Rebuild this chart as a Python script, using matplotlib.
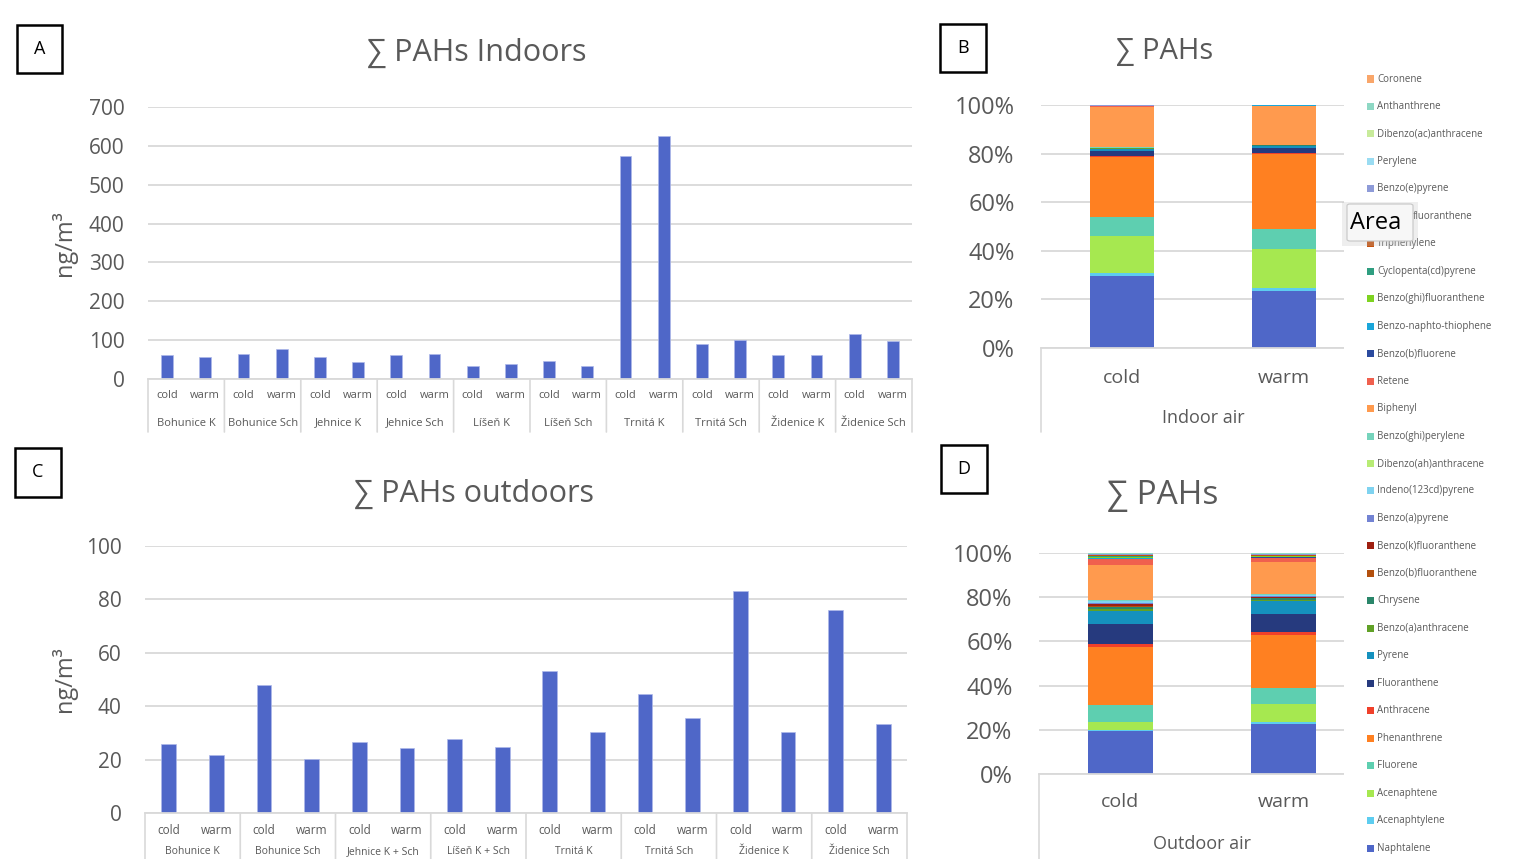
import numpy as np
import matplotlib
matplotlib.use("Agg")
import matplotlib.pyplot as plt
from matplotlib import transforms as mtransforms
from matplotlib.patches import Rectangle, FancyBboxPatch

plt.rcParams['font.family'] = ['Open Sans', 'DejaVu Sans']

# ---------------- data ----------------
seasons = ["cold", "warm"]

indoor_sites = ["Bohunice K", "Bohunice Sch", "Jehnice K", "Jehnice Sch", "Líšeň K",
                "Líšeň Sch", "Trnitá K", "Trnitá Sch", "Židenice K", "Židenice Sch"]
indoor_sum = [61, 57, 64.5, 76.5, 57, 44.7, 62.8, 64.5, 34.4, 37.8,
              46.4, 34.4, 573, 626, 90.3, 100.6, 61, 61, 117, 98.9]

outdoor_sites = ["Bohunice K", "Bohunice Sch", "Jehnice K + Sch", "Líšeň K + Sch",
                 "Trnitá K", "Trnitá Sch", "Židenice K", "Židenice Sch"]
outdoor_sum = [25.8, 21.7, 48.1, 20.1, 26.6, 24.2, 27.9, 24.8,
               53.1, 30.2, 44.5, 35.7, 83.0, 30.4, 76.2, 33.5]

# compounds, stacked from the bottom up
compounds = ["Naphtalene", "Acenaphtylene", "Acenaphtene", "Fluorene", "Phenanthrene",
             "Anthracene", "Fluoranthene", "Pyrene", "Benzo(a)anthracene", "Chrysene",
             "Benzo(b)fluoranthene", "Benzo(k)fluoranthene", "Benzo(a)pyrene",
             "Indeno(123cd)pyrene", "Dibenzo(ah)anthracene", "Benzo(ghi)perylene",
             "Biphenyl", "Retene", "Benzo(b)fluorene", "Benzo-naphto-thiophene",
             "Benzo(ghi)fluoranthene", "Cyclopenta(cd)pyrene", "Triphenylene",
             "fluoranthene", "Benzo(e)pyrene", "Perylene",
             "Dibenzo(ac)anthracene", "Anthanthrene", "Coronene"]

colors = ["#4F67C8", "#5DCDF0", "#A6E850", "#5ECFB0", "#FF8021",
          "#F0402A", "#263A7E", "#1591BE", "#61A127", "#2A866A",
          "#B3500E", "#9E1F10", "#7383D3", "#7FD3F0", "#B8EC75",
          "#76D4BC", "#FF9A4E", "#F0604E", "#2B4A9E", "#1AA6DA",
          "#7ED321", "#2F9E80", "#C5520E", "#F58A80", "#8E9BD8",
          "#9ADCF2", "#C8EB9B", "#8ED8C4", "#F9A66A"]

indoor_cold = [29.5, 1.4, 15.1, 8.2, 24.5, 0.5, 2.0, 1.1, 0.1, 0.1,
               0.05, 0.03, 0.05, 0.05, 0.01, 0.05, 16.8, 0.1, 0.05, 0.05,
               0.05, 0.02, 0.05, 0.03, 0.25, 0.02, 0.05, 0.02, 0.02]
indoor_warm = [23.4, 1.4, 16.1, 8.0, 30.9, 0.3, 2.1, 1.1, 0.05, 0.05,
               0.03, 0.02, 0.02, 0.02, 0.01, 0.03, 16.2, 0.05, 0.03, 0.03,
               0.02, 0.02, 0.03, 0.02, 0.02, 0.01, 0.02, 0.02, 0.02]
outdoor_cold = [19.5, 0.6, 3.6, 7.9, 26.4, 1.1, 9.1, 6.2, 1.0, 0.6,
                0.6, 0.8, 0.6, 0.8, 0.1, 0.3, 16.3, 2.3, 0.4, 0.3,
                0.4, 0.3, 0.5, 0.3, 0.3, 0.1, 0.1, 0.05, 0.2]
outdoor_warm = [22.8, 0.9, 8.2, 7.3, 24.3, 1.7, 8.2, 5.7, 0.75, 0.6,
                0.4, 0.3, 0.3, 0.5, 0.05, 0.3, 14.7, 2.0, 0.3, 0.2,
                0.2, 0.2, 0.4, 0.2, 0.3, 0.1, 0.1, 0.1, 0.2]

# ---------------- layout helpers ----------------
W, H = 1532, 859
GREY = "#595959"
GRID = "#D9D9D9"
BLUE = "#4F67C8"

fig = plt.figure(figsize=(W / 100, H / 100), dpi=100)
fig.patch.set_facecolor("white")


def add_ax(x0, y0, x1, y1):
    return fig.add_axes([x0 / W, 1 - y1 / H, (x1 - x0) / W, (y1 - y0) / H])


def ftext(x, y, s, **kw):
    return fig.text(x / W, 1 - y / H, s, **kw)


def panel_box(x0, y0, x1, y1, letter):
    fig.patches.append(Rectangle((x0 / W, 1 - y1 / H), (x1 - x0) / W, (y1 - y0) / H,
                                 transform=fig.transFigure, fill=False,
                                 edgecolor="black", linewidth=1.8))
    ftext((x0 + x1) / 2, (y0 + y1) / 2, letter, ha="center", va="center",
          fontsize=13, color="black")


def below(ax, px):
    """x in data units, y as a pixel offset below the bottom of the axes."""
    base = mtransforms.blended_transform_factory(ax.transData, ax.transAxes)
    return mtransforms.offset_copy(base, fig=fig, x=0, y=-px, units="dots")


def vline_below(ax, x, px):
    base = mtransforms.blended_transform_factory(ax.transData, ax.transAxes)
    ax.annotate("", xy=(x, 0), xycoords=below(ax, px), xytext=(x, 0),
                textcoords=base, arrowprops=dict(arrowstyle="-", color=GRID, lw=1.2,
                                                  shrinkA=0, shrinkB=0))


def style_value_axis(ax, ymax, step, fs, pad):
    ax.set_ylim(0, ymax)
    ax.set_yticks(np.arange(0, ymax + step / 2, step))
    ax.yaxis.grid(True, color=GRID, linewidth=1.3)
    ax.set_axisbelow(True)
    for s in ("top", "right", "left"):
        ax.spines[s].set_visible(False)
    ax.spines["bottom"].set_color(GRID)
    ax.spines["bottom"].set_linewidth(1.3)
    ax.tick_params(axis="y", length=0, labelsize=fs, labelcolor=GREY, pad=pad)
    ax.tick_params(axis="x", length=0, labelbottom=False)


def sum_panel(ax, values, sites, ymax, step, label_px, site_px, sep_px, fs_small,
              fs_site):
    n = len(values)
    x = np.arange(n)
    ax.bar(x, values, width=0.31, color=BLUE, edgecolor="#AEB9EA", linewidth=0.5)
    ax.set_xlim(-0.5, n - 0.5)
    style_value_axis(ax, ymax, step, 15, 17)
    t_lab = below(ax, label_px)
    for i in range(n):
        ax.text(x[i], 0, seasons[i % 2], transform=t_lab, ha="center", va="center",
                fontsize=fs_small, color=GREY)
    t_site = below(ax, site_px)
    for g, name in enumerate(sites):
        ax.text(2 * g + 0.5, 0, name, transform=t_site, ha="center", va="center",
                fontsize=fs_site, color=GREY, clip_on=False)
    for g in range(len(sites) + 1):
        vline_below(ax, 2 * g - 0.5, sep_px)
    ax.set_ylabel("ng/m³", fontsize=17, color=GREY)


# ---------------- panel A ----------------
axA = add_ax(148, 107, 912, 379)
sum_panel(axA, indoor_sum, indoor_sites, 700, 100, 17, 44, 53, 8, 8)
axA.yaxis.set_label_coords(-0.093, 0.5)
panel_box(17, 25, 62, 73, "A")
ftext(477, 53, "∑ PAHs Indoors", ha="center", va="center", fontsize=22, color=GREY)

# ---------------- panel C ----------------
axC = add_ax(145, 546, 907, 813)
sum_panel(axC, outdoor_sum, outdoor_sites, 100, 20, 18, 39, 60, 8.5, 7.5)
axC.yaxis.set_label_coords(-0.089, 0.5)
panel_box(15, 448, 61, 497, "C")
ftext(474, 494, "∑ PAHs outdoors", ha="center", va="center", fontsize=22, color=GREY)


# ---------------- stacked 100 % panels ----------------
def share_panel(ax, cold, warm, xlabel, season_px, name_px, line_px):
    data = np.array([cold, warm], dtype=float)
    shares = data / data.sum(axis=1, keepdims=True) * 100
    bottom = np.zeros(2)
    x = np.arange(2)
    for i in range(len(compounds)):
        ax.bar(x, shares[:, i], bottom=bottom, width=0.395, color=colors[i],
               linewidth=0)
        bottom += shares[:, i]
    ax.set_xlim(-0.5, 1.5)
    style_value_axis(ax, 100, 20, 17, 19)
    ax.set_yticks(np.arange(0, 101, 20), [f"{v}%" for v in range(0, 101, 20)])
    t_s = below(ax, season_px)
    for i, s in enumerate(seasons):
        ax.text(x[i], 0, s, transform=t_s, ha="center", va="center", fontsize=14,
                color=GREY)
    ax.text(0.5, 0, xlabel, transform=below(ax, name_px), ha="center", va="center",
            fontsize=13, color=GREY)
    vline_below(ax, -0.5, line_px)


axB = add_ax(1041, 105, 1365, 348)
share_panel(axB, indoor_cold, indoor_warm, "Indoor air", 30, 70, 84)
panel_box(940, 24, 986, 72, "B")
ftext(1165, 51, "∑ PAHs", ha="center", va="center", fontsize=21, color=GREY)

axD = add_ax(1039, 553, 1365, 774)
share_panel(axD, outdoor_cold, outdoor_warm, "Outdoor air", 28, 70, 90)
panel_box(941, 445, 987, 493, "D")
ftext(1163, 496, "∑ PAHs", ha="center", va="center", fontsize=24, color=GREY)

# ---------------- legend column ----------------
fig.patches.append(Rectangle((1344 / W, 0), (W - 1344) / W, 1 - 90 / H,
                             transform=fig.transFigure, facecolor="white",
                             edgecolor="none", zorder=5))
top_y, bot_y = 79, 848
step_y = (bot_y - top_y) / (len(compounds) - 1)
for k, i in enumerate(range(len(compounds) - 1, -1, -1)):
    y = top_y + k * step_y
    fig.patches.append(Rectangle((1367 / W, 1 - (y + 3.5) / H), 7 / W, 7 / H,
                                 transform=fig.transFigure, facecolor=colors[i],
                                 edgecolor="none", zorder=6))
    # the entry under the hover tooltip only shows the end of its name
    x_txt = 1413 if compounds[i] == "fluoranthene" else 1377
    t = ftext(x_txt, y, compounds[i], ha="left", va="center", fontsize=7, color=GREY)
    t.set_zorder(6)

# hover tooltip over the legend
fig.patches.append(Rectangle((1342 / W, 1 - 246 / H), 76 / W, 44 / H,
                             transform=fig.transFigure, facecolor="#BDBDBD",
                             edgecolor="none", alpha=0.25, zorder=7))
fig.patches.append(FancyBboxPatch((1347 / W, 1 - 241 / H), 66 / W, 37 / H,
                                  boxstyle="round,pad=0,rounding_size=0.002",
                                  transform=fig.transFigure, facecolor="#F7F7F7",
                                  edgecolor="#C6C6C6", linewidth=0.8, zorder=8))
t = ftext(1376, 223, "Area", ha="center", va="center", fontsize=17, color="black")
t.set_zorder(9)

fig.savefig("out.png", dpi=100, facecolor="white")
